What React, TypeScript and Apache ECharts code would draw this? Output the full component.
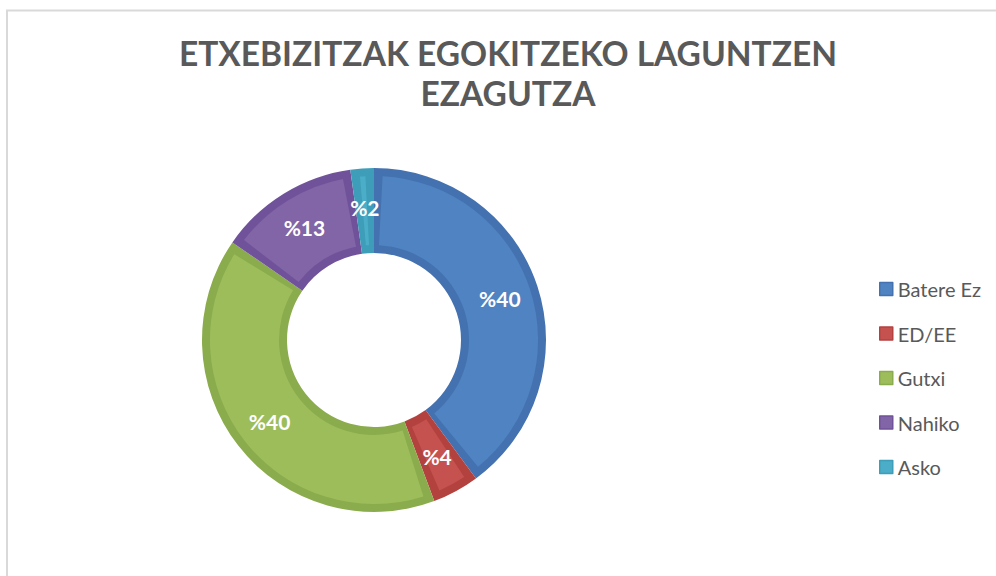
import React, { useEffect, useRef } from 'react';
import * as echarts from 'echarts';

const titleText = 'ETXEBIZITZAK EGOKITZEKO LAGUNTZEN\nEZAGUTZA';
const categories = ['Batere Ez', 'ED/EE', 'Gutxi', 'Nahiko', 'Asko'];
const values = [39.9, 4.4, 40.3, 13.2, 2.2];
const fillColors = ['#5083C1', '#C5524F', '#9DBD5B', '#8265A6', '#4BADC7'];
const edgeColors = ['#4472B0', '#B3423F', '#8BAC4C', '#70529A', '#3E9DB8'];

export default function App() {
  const ref = useRef<HTMLDivElement>(null);
  useEffect(() => {
    document.body.style.margin = '0';
    if (!ref.current) return;
    const chart = echarts.init(ref.current, undefined, { renderer: 'svg' });
    chart.setOption({
      animation: false,
      backgroundColor: '#ffffff',
      graphic: [
        {
          type: 'rect',
          shape: { x: 7, y: 10.5, width: 1000, height: 600 },
          style: { fill: 'none', stroke: '#D9D9D9', lineWidth: 2 },
          silent: true,
        },
        {
          type: 'text',
          x: 508,
          y: 73,
          style: {
            text: titleText,
            textAlign: 'center',
            textVerticalAlign: 'middle',
            fontFamily: 'Lato',
            fontWeight: 'bold',
            fontSize: 33.5,
            lineHeight: 40,
            fill: '#595959',
          },
          silent: true,
        },
      ],
      legend: {
        orient: 'vertical',
        left: 874,
        top: 274,
        icon: 'rect',
        itemWidth: 13,
        itemHeight: 13,
        itemGap: 24.5,
        selectedMode: false,
        textStyle: { color: '#595959', fontSize: 20, fontFamily: 'Lato' },
        data: categories.map((name, i) => ({
          name,
          itemStyle: { color: fillColors[i], borderColor: edgeColors[i], borderWidth: 1.5 },
        })),
      },
      series: [
        {
          type: 'pie',
          name: 'edge',
          center: [374, 340],
          radius: [87, 172],
          startAngle: 90,
          clockwise: true,
          silent: true,
          label: { show: false },
          labelLine: { show: false },
          itemStyle: { borderWidth: 0 },
          data: categories.map((name, i) => ({
            name,
            value: values[i],
            itemStyle: { color: edgeColors[i] },
          })),
        },
        {
          type: 'pie',
          name: 'fill',
          center: [374, 340],
          radius: [95, 164],
          startAngle: 90,
          clockwise: true,
          padAngle: 6,
          silent: true,
          labelLine: { show: false },
          itemStyle: { borderWidth: 0 },
          label: {
            show: true,
            position: 'inside',
            color: '#ffffff',
            fontFamily: 'Lato',
            fontWeight: 'bold',
            fontSize: 21,
            formatter: (p: any) => '%' + Math.round(p.value),
          },
          data: categories.map((name, i) => ({
            name,
            value: values[i],
            itemStyle: { color: fillColors[i] },
          })),
        },
      ],
    });
    return () => chart.dispose();
  }, []);
  return <div ref={ref} style={{ width: 996, height: 576 }} />;
}
